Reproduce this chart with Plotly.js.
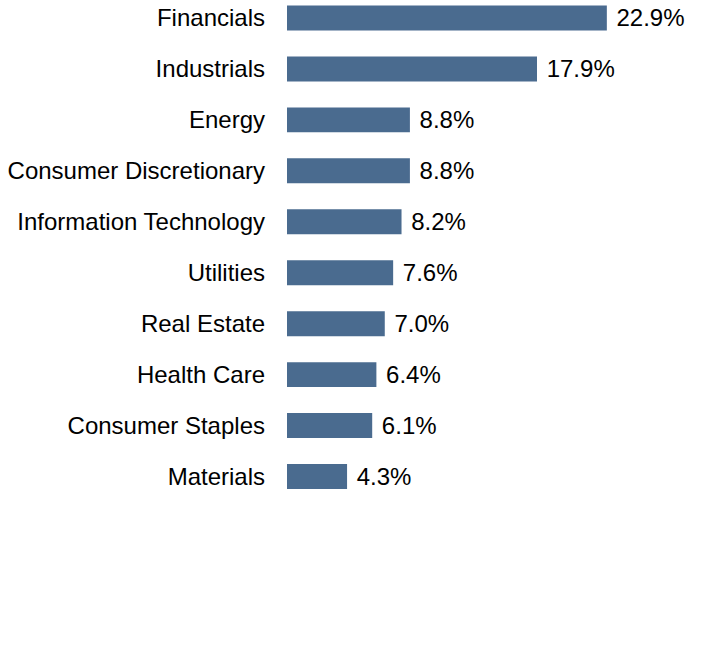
<!DOCTYPE html>
<html>
<head>
<meta charset="utf-8">
<script src="https://cdn.plot.ly/plotly-3.0.1.min.js"></script>
<style>html,body{margin:0;padding:0;background:#fff;}#chart{width:720px;height:672px;}</style>
</head>
<body>
<div id="chart"></div>
<script>
const sectors = ["Financials","Industrials","Energy","Consumer Discretionary","Information Technology","Utilities","Real Estate","Health Care","Consumer Staples","Materials"];
const weights = [22.9,17.9,8.8,8.8,8.2,7.6,7.0,6.4,6.1,4.3];
const labels = weights.map(v => "\u00a0" + v.toFixed(1) + "%");

const trace = {
  type: "bar",
  orientation: "h",
  x: weights,
  y: sectors,
  text: labels,
  textposition: "outside",
  constraintext: "none",
  textfont: {family: "Liberation Sans, Arial, sans-serif", size: 24, color: "#000"},
  cliponaxis: false,
  width: 0.49,
  marker: {color: "#4a6b8f"},
  hoverinfo: "none"
};

const layout = {
  width: 720, height: 672,
  margin: {l: 287, r: 14, t: 0, b: 169.5},
  paper_bgcolor: "#fff", plot_bgcolor: "#fff",
  showlegend: false,
  font: {family: "Liberation Sans, Arial, sans-serif", size: 24, color: "#000"},
  xaxis: {range: [0, 30], visible: false, fixedrange: true},
  yaxis: {
    type: "category",
    categoryorder: "array", categoryarray: sectors,
    range: [9.5, -0.353],
    showgrid: false, zeroline: false, showline: false, ticks: "",
    ticklabelstandoff: 21,
    tickfont: {size: 24, color: "#000"},
    fixedrange: true
  }
};

Plotly.newPlot("chart", [trace], layout, {displayModeBar: false, staticPlot: true});
</script>
</body>
</html>
